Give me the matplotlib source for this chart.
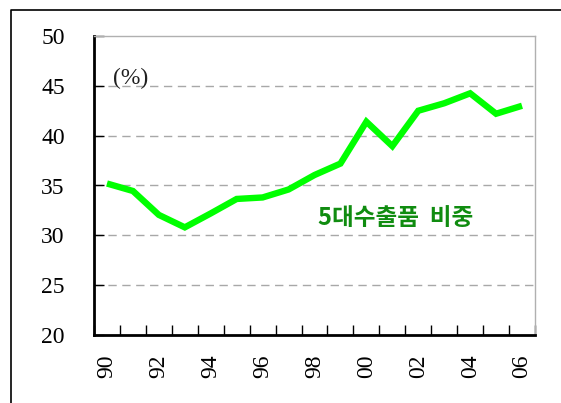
"""Share of top-5 export items, 1990-2006."""

import matplotlib
matplotlib.use('Agg')
import matplotlib.pyplot as plt
from matplotlib.lines import Line2D
import numpy as np

# Data
years = ['90', '91', '92', '93', '94', '95', '96', '97', '98', '99',
         '00', '01', '02', '03', '04', '05', '06']
share = [35.2, 34.45, 32.05, 30.8, 32.2, 33.65, 33.8, 34.6, 36.05, 37.2,
         41.4, 38.95, 42.5, 43.25, 44.25, 42.2, 43.0]
y_ticks = [20, 25, 30, 35, 40, 45, 50]
grid_levels = [25, 30, 35, 40, 45]

serif = ['Liberation Serif', 'DejaVu Serif']

fig = plt.figure(figsize=(5.61, 4.03), dpi=100)
ax = fig.add_axes([94 / 561, 68 / 403, 441 / 561, 299 / 403])

# Outer frame (only left and top edges are visible)
fig.add_artist(Line2D([11 / 561, 11 / 561, 1.0], [0.0, 1 - 10 / 403, 1 - 10 / 403],
                      transform=fig.transFigure, color='black', lw=1.2))

x = np.arange(len(years)) + 0.5
ax.plot(x, share, color='#00ff00', lw=4.6, solid_joinstyle='miter',
        solid_capstyle='butt', zorder=3)

# Dashed grid lines
for level in grid_levels:
    ax.axhline(level, color='#a8a8a8', lw=1.0, ls=(0, (6, 4)), zorder=1)

ax.set_xlim(0, len(years))
ax.set_ylim(20, 50)

# Ticks at category boundaries, labels at centres of even years
ax.set_xticks(np.arange(len(years) + 1))
ax.set_xticklabels([])
ax.tick_params(axis='x', which='major', direction='in', length=7,
               width=1.0, color='black')
ax.set_xticks(x[::2], minor=True)
ax.set_xticklabels(years[::2], minor=True, rotation=90,
                   fontsize=17, family=serif)
ax.tick_params(axis='x', which='minor', length=0, pad=14)

ax.set_yticks(y_ticks)
ax.set_yticklabels([str(v) for v in y_ticks], fontsize=17, family=serif)
ax.tick_params(axis='y', direction='in', length=7, width=1.0, pad=21)

for side in ['left', 'bottom']:
    ax.spines[side].set_linewidth(2.0)
    ax.spines[side].set_color('black')
for side in ['top', 'right']:
    ax.spines[side].set_linewidth(1.0)
    ax.spines[side].set_color('#b0b0b0')

ax.text(0.75, 45.7, '(%)', fontsize=17, family=serif, color='#202020',
        va='center', ha='left')
ax.text(11.64, 31.75, '5대수출품  비중', fontsize=17, fontweight='bold',
        family=['Noto Sans CJK KR', 'DejaVu Sans'], color='#108c10',
        va='center', ha='center')

fig.savefig('out.png', dpi=100)
